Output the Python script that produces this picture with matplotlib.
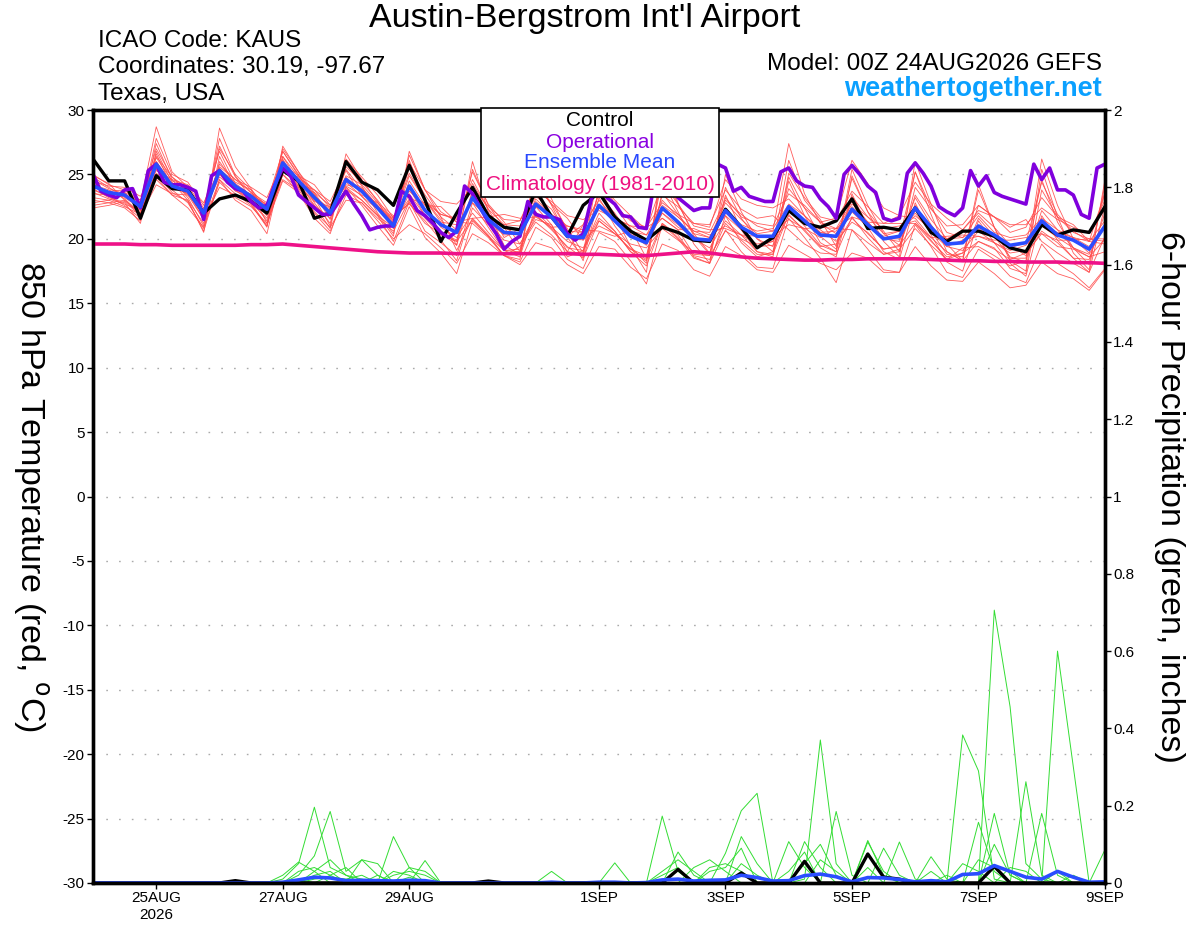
import numpy as np
import matplotlib
matplotlib.use("Agg")
import matplotlib.pyplot as plt
from matplotlib.patches import Rectangle

plt.rcParams['font.family'] = ['Liberation Sans', 'DejaVu Sans']
plt.rcParams['axes.unicode_minus'] = False

# ---------------- data ----------------
hours6 = list(range(0, 385, 6))      # 6-hourly from 00Z 24AUG2026
hours3 = list(range(0, 385, 3))      # 3-hourly (operational)

tick_hours = [24, 72, 120, 192, 240, 288, 336, 384]
tick_labels = ["25AUG\n2026", "27AUG", "29AUG", "1SEP", "3SEP", "5SEP", "7SEP", "9SEP"]

control_t = [26.2, 24.5, 24.5, 21.6, 24.9, 23.9, 23.8, 22.0, 23.1, 23.4, 22.9, 22.0,
             25.3, 24.5, 21.6, 22.0, 26.0, 24.4, 23.8, 22.6, 25.7, 23.0, 19.8, 22.0,
             24.0, 21.8, 20.9, 20.7, 23.8, 21.7, 20.2, 22.6, 23.6, 21.7, 20.6, 19.9,
             20.9, 20.5, 19.9, 19.8, 22.3, 20.9, 19.3, 20.1, 22.2, 21.2, 20.9, 21.4,
             23.1, 20.8, 20.9, 20.7, 22.4, 20.5, 19.8, 20.6, 20.6, 20.2, 19.3, 19.0,
             21.1, 20.3, 20.7, 20.5, 22.5]

mean_t = [24.1, 23.6, 23.4, 22.5, 25.8, 24.1, 23.7, 22.0, 25.3, 24.1, 23.3, 22.3,
          25.9, 24.5, 23.2, 22.0, 24.6, 23.7, 22.4, 21.0, 24.1, 22.2, 21.1, 20.5,
          23.2, 21.5, 20.5, 20.4, 22.7, 21.7, 20.2, 20.1, 22.6, 21.4, 20.2, 19.7,
          22.4, 21.3, 20.0, 19.9, 22.2, 20.9, 20.2, 20.2, 22.5, 21.4, 20.3, 20.2,
          22.3, 21.1, 20.0, 20.2, 22.4, 20.9, 19.6, 19.7, 21.0, 20.3, 19.5, 19.7,
          21.4, 20.3, 19.9, 19.2, 21.0]

clim_t = [19.6, 19.6, 19.6, 19.55, 19.55, 19.5, 19.5, 19.5, 19.5, 19.5, 19.55, 19.55,
          19.6, 19.5, 19.4, 19.3, 19.2, 19.1, 19.0, 18.95, 18.9, 18.9, 18.9, 18.85,
          18.85, 18.85, 18.85, 18.85, 18.85, 18.85, 18.85, 18.8, 18.8, 18.75, 18.7, 18.7,
          18.8, 18.9, 19.0, 18.9, 18.75, 18.6, 18.5, 18.45, 18.4, 18.35, 18.35, 18.4,
          18.4, 18.45, 18.45, 18.45, 18.45, 18.4, 18.35, 18.3, 18.3, 18.25, 18.25, 18.2,
          18.2, 18.2, 18.15, 18.15, 18.1]

oper_t = [25.0, 23.7, 23.4, 23.2, 23.8, 23.9, 22.4, 25.3, 25.8, 24.4, 24.2, 24.2,
          24.0, 23.7, 21.5, 24.9, 25.3, 24.4, 23.9, 23.7, 22.9, 22.4, 22.6, 24.2,
          25.5, 24.9, 23.4, 22.9, 22.4, 21.9, 21.9, 22.8, 23.7, 22.7, 21.8, 20.7,
          20.9, 21.0, 21.0, 23.7, 23.3, 22.2, 21.8, 21.2, 20.5, 20.1, 20.6, 24.1,
          23.5, 22.4, 21.3, 20.4, 19.2, 19.8, 20.2, 22.9, 21.9, 21.7, 21.7, 21.5,
          20.4, 19.9, 20.4, 23.0, 24.6, 23.2, 22.7, 21.8, 21.7, 20.9, 20.8, 24.4,
          25.6, 25.0, 23.2, 22.7, 22.2, 22.4, 22.4, 25.8, 25.5, 23.7, 24.0, 23.3,
          23.1, 22.9, 22.9, 25.2, 25.5, 24.5, 24.1, 24.0, 23.1, 22.5, 21.6, 25.0,
          25.7, 25.0, 24.1, 23.6, 21.6, 21.4, 21.6, 25.1, 25.9, 25.1, 24.1, 22.5,
          22.1, 21.8, 22.4, 25.3, 24.1, 24.9, 23.6, 23.3, 23.1, 22.9, 22.7, 25.8,
          24.6, 25.5, 23.8, 23.8, 23.4, 21.9, 21.6, 25.5, 25.8]

# ensemble member 850 hPa temperatures (4 values per day: 00Z,06Z,12Z,18Z; last = 00Z 9SEP)
member_t = [
    [24.6, 23.9, 23.5, 22.8, 28.7, 25.2, 24.0, 21.6, 27.8, 24.9, 23.1, 21.8, 26.8, 24.9, 23.5, 21.5,
     25.9, 24.1, 22.0, 20.4, 26.1, 23.0, 21.5, 19.5, 26.0, 22.1, 19.5, 18.8, 24.5, 22.7, 20.8, 18.9,
     25.4, 22.6, 20.8, 18.5, 24.6, 22.1, 19.6, 18.1, 25.0, 22.1, 20.0, 19.4, 26.1, 23.0, 21.5, 19.4,
     24.7, 22.1, 20.6, 19.0, 25.2, 21.9, 19.0, 18.3, 23.8, 20.9, 18.5, 18.5, 24.6, 21.3, 19.3, 18.0, 24.2],
    [22.4, 22.6, 22.9, 21.8, 24.2, 23.5, 23.4, 21.5, 24.0, 23.4, 22.8, 21.6, 24.6, 23.8, 22.1, 20.9,
     23.0, 22.8, 21.4, 20.0, 21.1, 20.4, 19.3, 18.1, 20.4, 19.7, 18.7, 18.0, 19.7, 19.3, 18.0, 17.3,
     19.4, 19.2, 17.8, 16.9, 19.6, 19.1, 17.6, 17.1, 19.4, 18.7, 17.6, 17.4, 19.5, 18.8, 18.1, 17.6,
     18.9, 18.5, 17.4, 17.4, 19.4, 17.9, 16.8, 16.7, 18.2, 17.3, 16.2, 16.4, 18.2, 17.3, 16.9, 16.0, 17.6],
    [24.9, 24.3, 23.0, 21.9, 27.4, 24.6, 23.2, 21.0, 28.6, 25.6, 23.9, 22.0, 26.1, 24.0, 22.9, 22.5,
     25.3, 23.3, 21.9, 20.2, 26.8, 23.8, 22.1, 21.3, 21.2, 20.1, 18.7, 19.4, 21.3, 20.3, 19.0, 21.1,
     24.4, 23.0, 21.8, 20.7, 24.4, 22.7, 21.0, 20.7, 20.8, 20.3, 19.0, 18.8, 25.1, 23.2, 21.7, 21.4,
     23.7, 22.5, 21.2, 21.8, 21.6, 20.1, 19.0, 18.3, 19.8, 19.3, 17.7, 17.3, 23.8, 21.7, 20.5, 20.0, 19.8],
    [23.2, 23.0, 22.5, 21.9, 25.4, 23.8, 22.8, 20.8, 26.0, 24.2, 23.0, 21.4, 25.2, 24.8, 23.8, 22.4,
     24.1, 23.4, 22.8, 21.8, 22.7, 21.4, 19.9, 18.3, 22.4, 21.1, 21.1, 21.4, 24.1, 22.7, 21.6, 19.9,
     21.0, 20.4, 19.2, 18.7, 23.4, 22.5, 21.2, 21.1, 23.8, 22.3, 21.6, 21.8, 20.7, 19.6, 18.9, 18.8,
     21.7, 20.1, 18.8, 19.0, 24.0, 22.3, 21.0, 21.1, 22.6, 21.7, 20.9, 21.5, 19.8, 18.9, 18.1, 17.4, 22.6],
    [24.0, 23.7, 23.8, 23.0, 26.3, 24.5, 24.1, 22.4, 25.0, 23.7, 23.2, 21.9, 27.0, 25.2, 23.6, 21.8,
     24.4, 23.3, 22.3, 21.5, 25.5, 23.4, 21.7, 20.7, 25.2, 22.7, 21.3, 19.6, 21.9, 20.7, 19.4, 18.5,
     21.4, 20.4, 19.6, 19.3, 20.8, 19.9, 19.0, 18.7, 23.2, 21.7, 21.2, 21.0, 23.5, 22.6, 21.3, 20.8,
     20.7, 19.7, 18.8, 19.2, 20.8, 19.5, 18.4, 18.9, 22.6, 21.7, 20.5, 20.9, 23.2, 21.7, 21.1, 19.8, 19.6],
    [25.0, 24.2, 23.8, 22.7, 27.0, 24.8, 23.6, 21.5, 25.8, 24.6, 23.6, 22.8, 26.8, 25.0, 22.8, 21.2,
     25.6, 24.4, 23.0, 21.4, 23.9, 21.8, 20.5, 19.9, 23.6, 21.3, 19.9, 19.6, 21.5, 21.1, 19.0, 18.9,
     23.8, 22.6, 21.4, 20.9, 21.6, 20.7, 18.8, 18.7, 20.6, 19.9, 18.8, 18.8, 21.9, 20.6, 19.3, 18.6,
     23.3, 21.7, 20.8, 21.0, 21.4, 19.9, 18.4, 19.3, 19.4, 18.7, 17.9, 18.3, 22.2, 20.7, 19.3, 18.6, 19.0],
    [22.6, 22.8, 23.0, 22.0, 24.8, 23.4, 23.0, 21.2, 24.6, 23.5, 22.6, 21.0, 25.0, 23.6, 21.6, 20.4,
     24.0, 22.6, 21.0, 19.5, 22.5, 20.1, 18.9, 17.3, 21.4, 20.2, 18.7, 18.2, 20.9, 20.1, 18.4, 17.7,
     20.5, 19.8, 18.3, 16.5, 21.1, 20.0, 18.5, 18.1, 20.7, 19.0, 17.8, 17.7, 21.6, 20.1, 18.5, 16.6,
     20.7, 19.2, 17.6, 17.4, 21.1, 19.4, 17.4, 17.0, 19.2, 18.4, 17.1, 16.6, 19.6, 18.1, 17.3, 16.2, 17.7],
    [24.4, 23.5, 23.6, 22.2, 27.8, 25.0, 24.4, 22.6, 26.8, 24.3, 23.4, 22.7, 26.2, 24.1, 23.0, 22.1,
     24.9, 24.2, 22.8, 21.3, 23.1, 22.8, 21.9, 21.5, 24.6, 22.3, 20.1, 20.8, 23.3, 22.3, 20.2, 21.1,
     23.0, 21.6, 21.0, 20.3, 22.6, 21.7, 20.6, 20.1, 21.8, 20.7, 19.4, 19.8, 23.9, 22.4, 21.3, 21.6,
     26.1, 24.3, 22.4, 21.8, 24.4, 22.7, 21.6, 20.7, 22.0, 20.9, 19.5, 18.7, 20.6, 19.7, 18.5, 18.4, 22.0],
    [23.8, 23.3, 22.6, 21.6, 25.0, 23.6, 22.9, 20.6, 24.6, 23.0, 22.2, 20.4, 25.6, 24.3, 23.8, 22.9,
     25.4, 23.8, 22.5, 20.8, 24.5, 22.6, 20.9, 20.1, 22.0, 20.5, 19.1, 19.2, 22.1, 20.9, 19.8, 19.3,
     21.6, 20.6, 19.0, 18.3, 23.6, 21.9, 20.4, 20.1, 22.8, 21.5, 20.4, 20.6, 21.5, 20.8, 20.1, 20.8,
     22.9, 21.3, 20.0, 19.8, 23.2, 21.1, 19.4, 19.1, 20.6, 19.7, 18.9, 19.1, 21.0, 20.1, 19.3, 18.8, 21.0],
    [23.5, 23.4, 23.6, 23.0, 26.0, 24.3, 23.4, 22.3, 25.6, 24.6, 24.0, 23.2, 26.0, 24.6, 23.3, 22.3,
     24.2, 23.9, 22.6, 21.2, 25.9, 23.8, 22.9, 22.7, 24.0, 22.5, 21.5, 21.4, 23.7, 22.9, 21.8, 21.5,
     22.2, 21.6, 21.0, 20.9, 22.8, 21.9, 21.2, 20.9, 24.6, 23.1, 22.6, 22.4, 23.1, 21.8, 20.7, 19.8,
     21.3, 20.5, 19.2, 19.4, 23.4, 21.5, 20.0, 20.7, 22.2, 21.7, 21.1, 21.1, 22.4, 21.5, 20.9, 20.4, 23.0],
    [24.8, 24.0, 23.2, 22.4, 26.6, 24.0, 23.5, 21.8, 25.2, 23.8, 22.8, 21.0, 26.4, 24.4, 22.6, 21.6,
     24.0, 23.0, 21.8, 19.8, 22.9, 20.6, 19.7, 18.7, 22.8, 20.9, 19.1, 18.6, 22.5, 21.1, 18.6, 19.1,
     22.0, 20.6, 19.0, 17.9, 21.2, 20.3, 18.6, 18.1, 21.8, 19.7, 18.6, 19.0, 22.3, 21.0, 19.5, 19.0,
     23.5, 20.9, 19.0, 18.4, 22.8, 20.3, 18.2, 17.5, 21.4, 19.7, 18.1, 17.1, 21.8, 19.9, 18.5, 17.4, 20.2],
    [22.8, 23.0, 23.4, 22.6, 25.1, 23.9, 24.0, 22.0, 25.5, 24.0, 23.0, 22.1, 25.4, 24.0, 23.6, 22.6,
     24.8, 23.6, 22.3, 21.6, 25.1, 23.0, 21.3, 21.1, 22.8, 21.7, 20.9, 20.2, 23.1, 21.9, 20.6, 20.5,
     23.4, 22.0, 20.2, 19.9, 22.0, 20.9, 20.2, 19.7, 22.0, 21.1, 20.6, 20.8, 22.7, 21.8, 20.5, 20.2,
     22.1, 20.9, 20.2, 20.6, 21.8, 20.7, 20.0, 20.1, 21.8, 20.5, 20.1, 20.3, 21.6, 20.7, 20.1, 19.8, 21.4],
    [24.2, 23.8, 23.1, 22.0, 26.0, 24.2, 23.5, 22.2, 27.2, 24.8, 23.6, 22.4, 25.6, 24.6, 23.4, 22.1,
     23.8, 23.0, 21.8, 20.9, 23.5, 21.8, 20.5, 19.5, 23.8, 21.3, 20.3, 20.4, 22.5, 21.9, 21.0, 20.5,
     22.4, 21.4, 20.4, 19.5, 22.0, 21.1, 20.0, 19.3, 21.4, 20.3, 19.6, 19.8, 22.3, 21.2, 20.5, 20.6,
     22.7, 21.7, 20.4, 20.6, 22.0, 20.5, 19.4, 19.9, 20.2, 19.7, 19.1, 19.5, 21.0, 20.5, 20.1, 19.4, 21.0],
    [24.3, 23.5, 23.3, 22.6, 25.6, 24.0, 23.8, 22.1, 24.8, 23.9, 23.5, 22.6, 26.4, 24.8, 23.4, 21.8,
     24.5, 24.0, 22.6, 21.2, 24.9, 23.0, 21.9, 21.6, 24.3, 22.3, 21.1, 21.0, 22.9, 21.9, 20.2, 19.9,
     22.6, 21.8, 20.6, 19.9, 23.0, 21.7, 20.6, 20.5, 23.0, 21.9, 21.0, 20.6, 27.4, 23.5, 21.2, 20.4,
     22.5, 21.3, 20.0, 20.0, 25.2, 22.4, 20.5, 20.1, 20.8, 20.1, 19.3, 19.7, 24.4, 21.9, 20.6, 19.8, 23.6],
    [23.9, 23.2, 22.8, 21.2, 26.8, 24.4, 23.0, 20.5, 26.4, 24.0, 22.7, 20.9, 27.2, 25.2, 23.2, 21.0,
     26.6, 24.6, 22.9, 20.8, 26.5, 23.8, 21.7, 19.1, 21.6, 20.3, 18.7, 18.4, 25.7, 23.1, 20.6, 18.3,
     23.2, 21.0, 19.4, 18.1, 25.2, 22.7, 20.4, 18.9, 23.4, 20.7, 19.0, 18.6, 24.5, 21.8, 19.7, 19.0,
     24.9, 22.1, 19.8, 18.6, 26.0, 22.7, 19.6, 18.3, 24.2, 20.9, 18.3, 17.5, 25.4, 21.7, 18.9, 17.6, 24.6],
    [24.5, 24.1, 24.0, 23.3, 25.3, 24.6, 24.2, 22.8, 25.4, 24.4, 23.8, 22.5, 25.8, 24.9, 24.2, 22.6,
     24.7, 23.6, 22.5, 21.7, 23.7, 22.6, 22.5, 21.3, 21.6, 21.7, 21.9, 21.6, 21.7, 20.9, 21.0, 20.7,
     20.6, 20.2, 20.6, 20.3, 21.6, 20.7, 20.8, 20.3, 21.0, 20.3, 20.2, 20.2, 21.1, 20.8, 20.9, 20.8,
     21.7, 21.3, 21.2, 21.2, 21.2, 20.1, 20.2, 20.3, 20.2, 19.9, 19.9, 20.1, 20.4, 19.9, 19.9, 20.0, 20.0],
    [23.0, 22.8, 22.4, 21.4, 26.4, 24.8, 23.9, 21.9, 27.0, 25.0, 23.8, 21.2, 25.0, 23.9, 22.6, 20.8,
     26.2, 24.8, 23.4, 21.6, 22.8, 21.2, 20.4, 19.8, 25.4, 22.6, 20.9, 19.0, 24.8, 22.6, 20.1, 18.6,
     23.9, 21.8, 19.4, 17.4, 26.0, 22.8, 20.2, 18.8, 24.0, 21.6, 20.0, 19.0, 24.8, 22.4, 20.2, 19.2,
     25.4, 22.6, 20.4, 19.5, 22.6, 20.6, 18.8, 18.6, 21.6, 20.2, 18.6, 18.2, 26.2, 22.6, 20.0, 18.9, 23.6],
    [23.6, 23.1, 22.7, 22.2, 24.6, 23.4, 22.4, 20.9, 24.4, 23.2, 22.5, 21.2, 24.5, 23.6, 22.0, 20.6,
     23.4, 22.8, 21.6, 20.6, 23.0, 21.6, 20.3, 19.8, 21.5, 20.2, 19.1, 19.0, 21.8, 20.8, 19.3, 19.1,
     21.4, 20.4, 19.2, 18.4, 21.2, 20.1, 18.7, 18.4, 21.2, 20.0, 19.4, 19.5, 21.8, 20.7, 19.4, 19.6,
     21.6, 20.4, 19.2, 19.5, 21.2, 19.8, 18.6, 18.9, 19.8, 19.2, 18.4, 18.9, 20.4, 19.4, 19.2, 18.6, 20.0],
]

# 6-hour precipitation (inches), keyed by 6-hour step index
control_p = {9: 0.006, 25: 0.005, 37: 0.035, 41: 0.026, 45: 0.056, 49: 0.075, 50: 0.015,
             51: 0.01, 57: 0.043}
mean_p = {12: 0.002, 13: 0.008, 14: 0.015, 15: 0.013, 16: 0.006, 17: 0.007, 18: 0.006,
          19: 0.005, 20: 0.007, 21: 0.006, 29: 0.002, 32: 0.002, 33: 0.002, 35: 0.001,
          36: 0.008, 37: 0.01, 38: 0.005, 39: 0.007, 40: 0.008, 41: 0.02, 42: 0.014,
          43: 0.005, 44: 0.006, 45: 0.019, 46: 0.023, 47: 0.016, 48: 0.003, 49: 0.014,
          50: 0.013, 51: 0.009, 52: 0.003, 53: 0.006, 54: 0.003, 55: 0.022, 56: 0.024,
          57: 0.045, 58: 0.03, 59: 0.015, 60: 0.01, 61: 0.03, 62: 0.015, 63: 0.002, 64: 0.003}
member_p = [
    {12: 0.01, 13: 0.05, 14: 0.196, 15: 0.04, 16: 0.02, 17: 0.01, 36: 0.173, 37: 0.03,
     45: 0.01, 46: 0.37, 47: 0.05, 57: 0.706, 58: 0.456, 59: 0.05, 60: 0.01},
    {13: 0.02, 14: 0.07, 15: 0.185, 16: 0.03, 17: 0.06, 18: 0.02, 40: 0.077, 41: 0.187,
     42: 0.232, 55: 0.383, 56: 0.29, 57: 0.01, 64: 0.086},
    {14: 0.03, 15: 0.06, 16: 0.02, 19: 0.12, 20: 0.04, 29: 0.03, 37: 0.08, 38: 0.02,
     44: 0.107, 45: 0.04, 47: 0.185, 48: 0.02, 61: 0.6, 62: 0.3},
    {12: 0.02, 13: 0.054, 14: 0.03, 17: 0.06, 18: 0.05, 21: 0.058, 33: 0.052, 41: 0.12,
     42: 0.05, 49: 0.106, 50: 0.03, 56: 0.157, 57: 0.03, 59: 0.262, 60: 0.02},
    {14: 0.02, 15: 0.03, 18: 0.02, 20: 0.04, 21: 0.03, 38: 0.04, 39: 0.06, 40: 0.03,
     45: 0.107, 46: 0.04, 51: 0.106, 52: 0.01, 57: 0.18, 58: 0.02, 60: 0.18, 61: 0.02},
    {13: 0.01, 15: 0.02, 16: 0.04, 19: 0.03, 20: 0.02, 36: 0.02, 37: 0.04, 39: 0.04,
     40: 0.05, 41: 0.03, 44: 0.03, 45: 0.08, 50: 0.09, 51: 0.02, 53: 0.068, 54: 0.01,
     56: 0.06, 57: 0.04, 58: 0.03},
    {14: 0.01, 15: 0.015, 16: 0.01, 17: 0.02, 19: 0.02, 20: 0.03, 21: 0.02, 36: 0.03,
     37: 0.06, 38: 0.03, 41: 0.05, 42: 0.02, 46: 0.06, 47: 0.03, 49: 0.04, 53: 0.03,
     55: 0.05, 56: 0.03, 58: 0.04, 59: 0.03, 61: 0.03},
    {13: 0.03, 14: 0.04, 15: 0.02, 18: 0.01, 20: 0.015, 39: 0.03, 40: 0.04, 41: 0.09,
     45: 0.05, 46: 0.1, 47: 0.02, 49: 0.11, 50: 0.02, 54: 0.02, 57: 0.1, 58: 0.02, 62: 0.02},
]

left_ticks = [-30, -25, -20, -15, -10, -5, 0, 5, 10, 15, 20, 25, 30]
right_ticks = [0, 0.2, 0.4, 0.6, 0.8, 1.0, 1.2, 1.4, 1.6, 1.8, 2.0]
right_labels = ["0", "0.2", "0.4", "0.6", "0.8", "1", "1.2", "1.4", "1.6", "1.8", "2"]

# ---------------- styles ----------------
C_RED = '#ff4a4a'
C_GREEN = '#33dd33'
C_CTRL = 'black'
C_OPER = '#8000dd'
C_MEAN = '#2a4dff'
C_CLIM = '#ee1188'


def build(d):
    arr = np.zeros(len(hours6))
    for k, v in d.items():
        arr[k] = v
    return arr


W, H = 1200, 927
fig = plt.figure(figsize=(12, 9.27), dpi=100)
ax = fig.add_axes([0.0775, 0.0475, 0.8433, 0.8338])
ax2 = ax.twinx()
ax.set_zorder(2)
ax.patch.set_visible(False)
ax2.set_zorder(1)

# precipitation on right axis (drawn beneath)
for m in member_p:
    ax2.plot(hours6, build(m), color=C_GREEN, lw=0.7)
ax2.plot(hours6, build(control_p), color=C_CTRL, lw=2.4)
ax2.plot(hours6, build(mean_p), color=C_MEAN, lw=2.6)
ax2.set_ylim(0, 2)
ax2.set_yticks(right_ticks)
ax2.set_yticklabels(right_labels)

# temperature on left axis
for m in member_t:
    ax.plot(hours6, m, color=C_RED, lw=0.6, alpha=0.9)
ax.plot(hours6, clim_t, color=C_CLIM, lw=2.6)
ax.plot(hours6, control_t, color=C_CTRL, lw=2.4)
ax.plot(hours3, oper_t, color=C_OPER, lw=2.6)
ax.plot(hours6, mean_t, color=C_MEAN, lw=2.6)

ax.set_xlim(0, 384)
ax.set_ylim(-30, 30)
ax.set_yticks(left_ticks)
ax.set_xticks(tick_hours)
ax.set_xticklabels(tick_labels)
for y in left_ticks[1:-1]:
    ax.axhline(y, color='#aaaaaa', lw=1.0, ls=(0, (1.2, 8)), zorder=0.5)

for a in (ax, ax2):
    for s in a.spines.values():
        s.set_linewidth(2.4)
    a.tick_params(labelsize=11, length=4, width=1, direction='out', pad=2)

# axis titles (both read top-to-bottom)
fig.text(30 / W, 1 - 497 / H, "850 hPa Temperature (red, $^{\\mathrm{o}}$C)", fontsize=24.5,
         rotation=270, ha='center', va='center')
fig.text(1170 / W, 1 - 497 / H, "6-hour Precipitation (green, inches)", fontsize=24.5,
         rotation=270, ha='center', va='center')

# header texts
fig.text(0.4875, 0.980, "Austin-Bergstrom Int'l Airport", ha='center', va='center', fontsize=24.5)
fig.text(0.082, 0.956, "ICAO Code: KAUS", ha='left', va='center', fontsize=17.5)
fig.text(0.082, 0.928, "Coordinates: 30.19, -97.67", ha='left', va='center', fontsize=17.5)
fig.text(0.082, 0.899, "Texas, USA", ha='left', va='center', fontsize=17.5)
fig.text(0.9185, 0.931, "Model: 00Z 24AUG2026 GEFS", ha='right', va='center', fontsize=17.5)
fig.text(0.9185, 0.904, "weathertogether.net", ha='right', va='center', fontsize=19.5,
         fontweight='bold', color='#0aa0ff')

# legend box
rect = Rectangle((481 / W, 1 - 197 / H), (719 - 481) / W, (197 - 108) / H,
                 transform=fig.transFigure, facecolor='white', edgecolor='black',
                 lw=1.2, zorder=10)
fig.add_artist(rect)
leg_items = [("Control", C_CTRL, 121), ("Operational", '#8a00e0', 142),
             ("Ensemble Mean", '#2848ff', 163), ("Climatology (1981-2010)", '#ee1080', 185)]
for txt, col, yy in leg_items:
    fig.text(600 / W, 1 - yy / H, txt, ha='center', va='center', fontsize=15,
             color=col, zorder=11)

fig.savefig("out.png", dpi=100)
